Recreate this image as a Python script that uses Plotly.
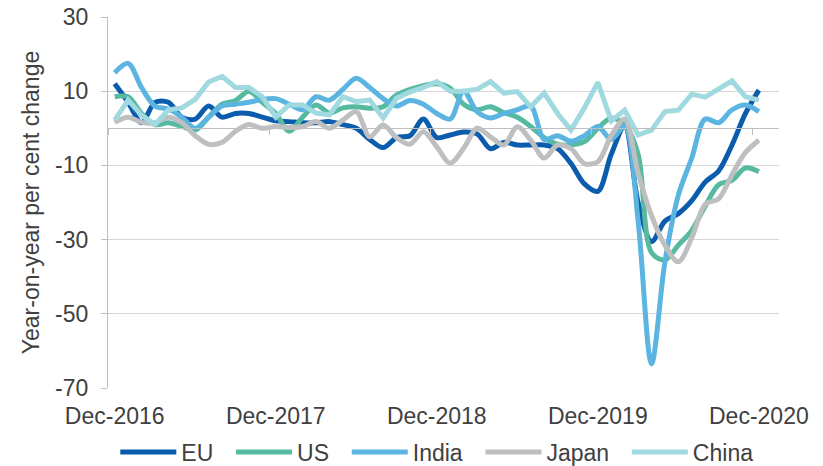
import plotly.graph_objects as go

# Monthly data Dec-2016 .. Dec-2020 (49 months)
months = list(range(49))
tick_labels = ["Dec-2016", "Dec-2017", "Dec-2018", "Dec-2019", "Dec-2020"]
tick_positions = [0, 12, 24, 36, 48]
y_ticks = [-70, -50, -30, -10, 10, 30]
y_tick_labels = ["-70", "-50", "-30", "-10", "10", "30"]

eu = [12, 7, 1.5, 7, 7, 3, 2.5, 6, 3, 4, 4, 3,
      2, 1.8, 1.5, 1.5, 1.8, 1, 0, -3, -5.2, -2.5, -2, 2.5,
      -2.5, -1.8, -1, -1.5, -5.5, -3.8, -4.5, -4.5, -4.5, -5.5, -9.5, -15,
      -17, -7, 0.5, -20, -30.5, -25, -23, -19.5, -14.5, -11.5, -4.5, 4, 10.3]
us = [8.5, 8.5, 4, 1, 1.5, 0.5, -0.5, 3, 6.5, 7.5, 10, 7,
      4, -0.8, 3, 6.3, 4.1, 5.5, 5.8, 5.4, 5.8, 9, 10.5, 11.5,
      12, 10.8, 6.5, 5, 5.8, 4.2, 3, 0.5, -2.5, -4.3, -4.5, -3.6,
      0, 2.8, 1, -7, -33.5, -35.5, -31.5, -27.5, -21, -15.2, -14, -10.7, -11.7]
india = [15, 17.5, 11, 6, 5.2, 3, 0, 3, 6, 6.5, 7, 7.8,
         8, 6.5, 5, 8.5, 7.6, 10.5, 13.5, 11, 8, 6, 7.5, 6.5,
         4, 2.5, 10, 4.5, 2.8, 4, 5, 6, -3, -2, -3.5, -2,
         0.5, -3, 0.5, -25, -63.5, -36, -18, -8, 2.5, 1.5, 5, 6.3, 4.5]
japan = [1.6, 3, 1.6, 1.5, 3, 1.5, -2, -4.3, -3.8, -0.8, 1, 0,
         0.5, 0.2, 0.5, 1.8, 0, 2.2, 4.5, -2.3, 0.9, -2.5, -4.3, -0.9,
         -5, -9.4, -5.4, 0, -2.3, -4.5, 0.4, -3.2, -8, -4.5, -5.5, -9.5,
         -9, -2, 2.5, -12, -23.5, -31.5, -36, -29.5, -20.5, -19, -12.5, -6.5, -3.2]
china = [2.2, 7.6, 3.5, 1, 5, 5.5, 7.8, 12.5, 14, 11, 11, 8.5,
         3, 6.3, 6.3, 4.1, 3.6, 8.5, 7.2, 7.6, 2.8, 8.1, 9.8, 11,
         12.6, 10, 10, 10.5, 12.6, 9.5, 9.9, 5.8, 9.5, 4, -0.5, 5.5,
         12.4, 2, 4.9, -1.8, -0.5, 4.5, 4.9, 9.2, 8.4, 10.8, 12.8, 8.5, 7.6]

series_names = ["EU", "US", "India", "Japan", "China"]
series_values = [eu, us, india, japan, china]
series_colors = ["#0B5CAD", "#55BAA0", "#5BB5E0", "#BEBFC1", "#A0DAE0"]
series_shapes = ["spline", "spline", "spline", "spline", "linear"]

FONT = "Liberation Sans, Arial, sans-serif"
TXT = "#404040"
GRID = "#D6D6D6"
PAD = "\u00a0\u00a0"  # extra spacing between legend entries

fig = go.Figure()
for k, (name, vals, color, shape) in enumerate(zip(series_names, series_values,
                                                    series_colors, series_shapes)):
    label = name + (PAD if k < len(series_names) - 1 else "")
    fig.add_trace(go.Scatter(
        x=months, y=vals, name=label, mode="lines",
        line=dict(color=color, width=5, shape=shape, smoothing=0.9),
    ))

# invisible trace to host the category axis drawn at y = 0
fig.add_trace(go.Scatter(x=[], y=[], xaxis="x2", showlegend=False, hoverinfo="skip"))

fig.update_layout(
    width=823, height=466,
    margin=dict(l=108, r=44, t=17, b=78),
    paper_bgcolor="white", plot_bgcolor="white",
    font=dict(family=FONT, size=23, color=TXT),
    xaxis=dict(
        range=[-0.5, 49.5], tickvals=tick_positions, ticktext=tick_labels,
        showgrid=False, zeroline=False, showline=False, ticks="",
        ticklabelstandoff=12, automargin=False,
        tickfont=dict(family=FONT, size=23, color=TXT),
    ),
    xaxis2=dict(
        overlaying="x", matches="x", anchor="free", position=0.7, side="bottom",
        range=[-0.5, 49.5], tickvals=[-0.5, 11.5, 23.5, 35.5, 47.5],
        showticklabels=False, showgrid=False, zeroline=False, automargin=False,
        showline=True, linecolor="#BFBFBF", linewidth=1.3,
        ticks="outside", ticklen=6, tickcolor="#BFBFBF", tickwidth=1.3,
    ),
    yaxis=dict(
        range=[-70, 30], tickvals=y_ticks, ticktext=y_tick_labels,
        showgrid=True, gridcolor=GRID, gridwidth=1.3, zeroline=False,
        showline=True, linecolor="#BFBFBF", linewidth=1.3,
        ticks="outside", ticklen=6, tickcolor="#BFBFBF", tickwidth=1.3,
        ticklabelstandoff=8, automargin=False,
        tickfont=dict(family=FONT, size=23, color=TXT),
        title=dict(text="Year-on-year per cent change", standoff=8,
                   font=dict(family=FONT, size=23, color=TXT)),
    ),
    legend=dict(
        orientation="h", x=0.49, xanchor="center",
        yref="container", y=0.03, yanchor="middle",
        font=dict(family=FONT, size=23, color=TXT),
        itemwidth=56, bgcolor="rgba(0,0,0,0)", traceorder="normal",
    ),
    showlegend=True,
)

fig.write_html("out.html", config={"displayModeBar": False},
               post_script="document.body.style.margin='0';")
